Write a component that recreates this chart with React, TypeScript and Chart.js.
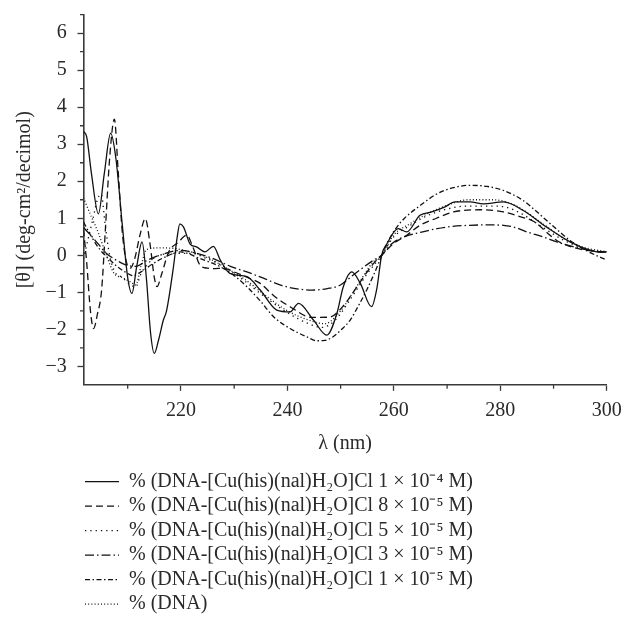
import React, { useEffect, useRef } from 'react';
import { Chart, registerables } from 'chart.js';

Chart.register(...registerables);

// ---------- data ----------
const seriesLabels = [
  '% (DNA-[Cu(his)(nal)H\u2082O]Cl 1 \u00d7 10\u207b\u2074 M)',
  '% (DNA-[Cu(his)(nal)H\u2082O]Cl 8 \u00d7 10\u207b\u2075 M)',
  '% (DNA-[Cu(his)(nal)H\u2082O]Cl 5 \u00d7 10\u207b\u2075 M)',
  '% (DNA-[Cu(his)(nal)H\u2082O]Cl 3 \u00d7 10\u207b\u2075 M)',
  '% (DNA-[Cu(his)(nal)H\u2082O]Cl 1 \u00d7 10\u207b\u2075 M)',
  '% (DNA)',
];

const xMajorTicks = [220, 240, 260, 280, 300];
const xMinorTicks = [210, 230, 250, 270, 290];
const yMajorTicks = [-3, -2, -1, 0, 1, 2, 3, 4, 5, 6];
const yMinorTicks = [-2.5, -1.5, -0.5, 0.5, 1.5, 2.5, 3.5, 4.5, 5.5, 6.5];

const c1e4X = [201.7, 202.3, 203.2, 204.5, 205.6, 206.8, 207.8, 209.0, 210.0, 210.8, 211.7, 212.7, 213.5, 214.3, 215.0, 215.8, 216.7, 217.3, 218.6, 219.3, 219.8, 220.5, 221.7, 223.0, 224.5, 226.1, 227.4, 229.2, 232.4, 234.9, 238.0, 240.5, 242.1, 244.9, 247.4, 249.3, 250.5, 252.1, 253.7, 255.8, 256.8, 257.7, 258.7, 260.8, 262.4, 264.9, 267.1, 269.5, 271.5, 274.3, 276.8, 280.6, 284.3, 288.7, 293.1, 296.5, 299.0, 300.0];
const c1e4Y = [3.35, 3.2, 2.2, 1.12, 2.2, 3.3, 2.6, 0.8, -0.6, -1.03, -0.3, 0.36, -0.6, -2.1, -2.65, -2.29, -1.75, -1.5, -0.31, 0.49, 0.85, 0.76, 0.31, 0.22, 0.09, 0.24, -0.13, -0.49, -0.58, -0.94, -1.48, -1.53, -1.3, -1.75, -2.16, -1.57, -0.85, -0.45, -0.76, -1.39, -0.9, 0.0, 0.31, 0.72, 0.63, 1.08, 1.17, 1.3, 1.44, 1.44, 1.39, 1.44, 1.21, 0.76, 0.36, 0.15, 0.08, 0.1];

const c8e5X = [201.7, 202.3, 203.0, 203.6, 204.3, 205.1, 205.8, 206.6, 207.5, 208.2, 209.0, 209.8, 210.5, 211.3, 212.4, 213.3, 214.2, 215.0, 215.5, 216.4, 217.7, 219.5, 221.1, 222.3, 223.6, 225.0, 226.1, 228.0, 230.0, 232.5, 234.9, 237.5, 240.5, 244.6, 248.0, 250.0, 251.8, 254.0, 256.2, 257.7, 259.9, 262.5, 264.9, 268.0, 271.2, 276.2, 280.6, 283.5, 286.2, 290.6, 294.0, 297.0, 300.0];
const c8e5Y = [0.7, -0.2, -1.5, -1.98, -1.6, -0.94, 0.67, 2.6, 3.68, 2.3, 0.6, -0.2, -0.35, -0.1, 0.6, 0.99, 0.3, -0.6, -0.85, -0.5, 0.09, 0.35, 0.54, 0.2, -0.27, -0.35, -0.36, -0.35, -0.45, -0.6, -0.76, -1.1, -1.39, -1.68, -1.67, -1.45, -1.12, -0.65, -0.22, 0.0, 0.31, 0.55, 0.81, 1.0, 1.17, 1.23, 1.17, 1.05, 0.92, 0.4, 0.2, 0.12, 0.08];

const c5e5X = [201.7, 202.5, 203.5, 204.3, 205.0, 205.8, 206.6, 207.6, 209.0, 210.5, 211.5, 212.5, 214.0, 216.0, 219.0, 222.0, 225.0, 228.0, 232.0, 236.0, 240.0, 244.0, 246.5, 249.0, 252.0, 255.0, 257.7, 260.0, 263.0, 266.0, 270.0, 274.0, 278.0, 281.0, 284.0, 288.0, 292.0, 296.0, 300.0];
const c5e5Y = [-0.1, 0.4, 1.0, 1.5, 1.65, 0.8, 0.0, -0.45, -0.6, -0.8, -0.85, -0.5, -0.2, 0.0, 0.05, 0.05, -0.1, -0.3, -0.7, -1.15, -1.55, -1.85, -1.95, -1.75, -1.15, -0.5, 0.0, 0.5, 0.8, 1.05, 1.25, 1.33, 1.33, 1.3, 1.12, 0.75, 0.4, 0.17, 0.08];

const c3e5X = [201.7, 203.0, 204.5, 206.0, 207.5, 209.5, 211.5, 213.5, 216.0, 219.9, 223.0, 226.1, 229.3, 232.4, 235.5, 238.6, 241.5, 244.6, 247.5, 249.9, 251.8, 253.6, 256.2, 257.7, 259.5, 261.8, 265.0, 268.1, 271.0, 274.3, 277.5, 280.6, 283.0, 285.0, 288.0, 290.6, 293.5, 296.5, 300.0];
const c3e5Y = [0.75, 0.55, 0.3, 0.05, -0.1, -0.25, -0.3, -0.15, 0.0, 0.13, 0.05, -0.09, -0.3, -0.45, -0.62, -0.8, -0.9, -0.94, -0.9, -0.81, -0.6, -0.4, -0.13, 0.0, 0.3, 0.49, 0.62, 0.72, 0.78, 0.81, 0.82, 0.81, 0.74, 0.63, 0.5, 0.36, 0.24, 0.14, 0.08];

const c1e5X = [201.7, 203.0, 204.8, 206.5, 208.0, 209.5, 211.0, 212.5, 214.5, 217.0, 219.9, 223.6, 227.4, 230.0, 232.4, 235.0, 237.4, 240.5, 243.6, 245.5, 247.0, 248.6, 250.2, 251.8, 253.4, 254.9, 256.3, 257.6, 259.0, 260.5, 262.0, 265.0, 268.1, 271.0, 274.3, 277.5, 280.6, 284.3, 286.5, 288.7, 291.0, 293.1, 296.5, 300.0];
const c1e5Y = [0.9, 0.55, 0.15, -0.1, -0.3, -0.45, -0.55, -0.45, -0.25, -0.05, 0.09, -0.09, -0.31, -0.55, -0.85, -1.25, -1.66, -1.98, -2.2, -2.31, -2.3, -2.2, -2.0, -1.75, -1.35, -0.94, -0.5, -0.05, 0.4, 0.75, 1.0, 1.35, 1.66, 1.82, 1.89, 1.86, 1.75, 1.48, 1.22, 0.94, 0.65, 0.4, 0.1, -0.13];

const dnaX = [201.7, 203.0, 204.5, 206.0, 207.5, 209.0, 210.5, 211.5, 212.5, 213.5, 216.0, 219.0, 221.0, 224.0, 228.0, 232.0, 236.0, 240.0, 244.0, 247.0, 250.0, 253.0, 256.0, 257.7, 260.0, 263.0, 266.0, 270.0, 274.0, 278.0, 281.0, 284.0, 288.0, 292.0, 296.0, 300.0];
const dnaY = [1.55, 1.1, 0.6, 0.0, -0.5, -0.6, -0.72, -0.8, -0.3, 0.15, 0.2, 0.18, 0.12, 0.0, -0.3, -0.65, -1.1, -1.5, -1.75, -1.85, -1.5, -0.85, -0.2, 0.0, 0.55, 0.85, 1.1, 1.35, 1.5, 1.5, 1.45, 1.25, 0.85, 0.45, 0.2, 0.1];

const seriesX = [c1e4X, c8e5X, c5e5X, c3e5X, c1e5X, dnaX];
const seriesY = [c1e4Y, c8e5Y, c5e5Y, c3e5Y, c1e5Y, dnaY];
const seriesDash = [[], [7, 4], [1.3, 4], [9, 3, 1.5, 3], [5, 2.5, 1.5, 2.5], [1, 2.2]];

// ---------- layout / style ----------
const W = 624;
const H = 622;
const PLOT_LEFT = 83.5;
const PLOT_RIGHT = 606.8;
const PLOT_TOP = 14.7;
const PLOT_BOTTOM = 384.8;
const FONT = "'Liberation Serif', 'Times New Roman', serif";
const FS = 20;
const LEG_PAD = 4.5;
const LEG_H = 6 * (FS + LEG_PAD) + 10;
const LEG_FIRST_ROW_Y = 481.7;
const LEG_BOX_X = 85;
const LEG_MAX_W = 470;
const X_TITLE_Y = 443.6;
const AXIS = '#3a3a3a';
const TEXT = '#2a2a2a';
const LINE = '#111111';
const LINE_W = 1.3;

const fmtY = (v: number) => (v < 0 ? '\u2212' + Math.abs(v) : String(v));

const minorTickPlugin = {
  id: 'minorTicks',
  afterDraw(chart: any) {
    const { ctx, chartArea, scales } = chart;
    ctx.save();
    ctx.strokeStyle = AXIS;
    ctx.lineWidth = 1.3;
    ctx.beginPath();
    xMinorTicks.forEach((v) => {
      const px = scales.x.getPixelForValue(v);
      ctx.moveTo(px, chartArea.bottom);
      ctx.lineTo(px, chartArea.bottom + 4);
    });
    yMinorTicks.forEach((v) => {
      const py = scales.y.getPixelForValue(v);
      ctx.moveTo(chartArea.left, py);
      ctx.lineTo(chartArea.left - 3.5, py);
    });
    ctx.stroke();
    ctx.restore();
  },
};

// one legend entry per row, placed under the plot like the reference
const legendPlacePlugin = {
  id: 'legendPlace',
  beforeLayout(chart: any) {
    const lg = chart.legend;
    if (!lg || lg.__patched) return;
    const origFit = lg.fit.bind(lg);
    lg.fit = function () {
      this.maxWidth = Math.min(this.maxWidth, LEG_MAX_W);
      origFit();
    };
    lg.__patched = true;
  },
  afterLayout(chart: any) {
    const lg = chart.legend;
    if (!lg) return;
    const dx = LEG_BOX_X - (lg.left + LEG_PAD);
    lg.left += dx;
    lg.right = lg.left + LEG_MAX_W;
    const top = LEG_FIRST_ROW_Y - LEG_PAD - FS / 2;
    const dy = top - lg.top;
    lg.top += dy;
    lg.bottom += dy;
  },
};

export default function App() {
  const ref = useRef<HTMLCanvasElement | null>(null);

  useEffect(() => {
    if (!ref.current) return;
    const datasets = seriesLabels.map((label, i) => ({
      label,
      data: seriesX[i].map((x, j) => ({ x, y: seriesY[i][j] })),
      borderColor: LINE,
      backgroundColor: LINE,
      borderWidth: LINE_W,
      borderDash: seriesDash[i],
      pointRadius: 0,
      fill: false,
      cubicInterpolationMode: 'monotone' as const,
    }));

    const chart = new Chart(ref.current, {
      type: 'line',
      data: { datasets },
      plugins: [minorTickPlugin, legendPlacePlugin],
      options: {
        animation: false,
        responsive: false,
        events: [],
        layout: { padding: { left: 0, right: W - PLOT_RIGHT, top: PLOT_TOP, bottom: 0 } },
        scales: {
          x: {
            type: 'linear',
            min: 201.7,
            max: 300,
            afterBuildTicks: (s: any) => {
              s.ticks = xMajorTicks.map((v) => ({ value: v }));
            },
            afterFit: (s: any) => {
              s.paddingLeft = 0;
              s.paddingRight = 0;
              const lgH = s.chart.legend ? s.chart.legend.height : LEG_H;
              s.height = H - PLOT_BOTTOM - lgH;
            },
            ticks: {
              autoSkip: false,
              maxRotation: 0,
              padding: 8,
              color: TEXT,
              font: { family: FONT, size: FS },
              callback: (v: any) => String(v),
            },
            grid: {
              drawOnChartArea: false,
              drawTicks: true,
              tickLength: 6,
              tickColor: AXIS,
              tickWidth: 1.3,
            },
            border: { display: true, color: AXIS, width: 1.6 },
            title: {
              display: true,
              text: '\u03bb (nm)',
              color: TEXT,
              font: { family: FONT, size: FS },
              padding: { top: 0, bottom: H - LEG_H - X_TITLE_Y - FS * 0.6 },
            },
          },
          y: {
            type: 'linear',
            min: -3.5,
            max: 6.5,
            afterBuildTicks: (s: any) => {
              s.ticks = yMajorTicks.map((v) => ({ value: v }));
            },
            afterFit: (s: any) => {
              s.width = PLOT_LEFT;
              s.paddingTop = 0;
              s.paddingBottom = 0;
            },
            ticks: {
              autoSkip: false,
              padding: 10.8,
              color: TEXT,
              font: { family: FONT, size: FS },
              callback: (v: any) => fmtY(Number(v)),
            },
            grid: {
              drawOnChartArea: false,
              drawTicks: true,
              tickLength: 6,
              tickColor: AXIS,
              tickWidth: 1.3,
            },
            border: { display: true, color: AXIS, width: 1.6 },
            title: {
              display: true,
              text: '[\u03b8] (deg-cm\u00b2/decimol)',
              color: TEXT,
              font: { family: FONT, size: FS },
              padding: { top: 13, bottom: 0 },
            },
          },
        },
        plugins: {
          tooltip: { enabled: false },
          legend: {
            display: true,
            position: 'bottom',
            align: 'start',
            labels: {
              usePointStyle: true,
              pointStyle: 'line',
              pointStyleWidth: 34,
              padding: LEG_PAD,
              color: TEXT,
              font: { family: FONT, size: FS },
              generateLabels: (ch: any) => {
                const items = (Chart as any).defaults.plugins.legend.labels.generateLabels(ch);
                items.forEach((it: any, i: number) => {
                  it.lineDash = seriesDash[i];
                  it.lineWidth = LINE_W;
                  it.strokeStyle = LINE;
                  it.fillStyle = LINE;
                  it.pointStyle = 'line';
                });
                return items;
              },
            },
          },
        },
      },
    } as any);

    return () => chart.destroy();
  }, []);

  return (
    <div style={{ position: 'fixed', left: 0, top: 0, width: W, height: H, background: '#fff', overflow: 'hidden' }}>
      <canvas ref={ref} width={W} height={H} style={{ display: 'block', width: W, height: H }} />
    </div>
  );
}
